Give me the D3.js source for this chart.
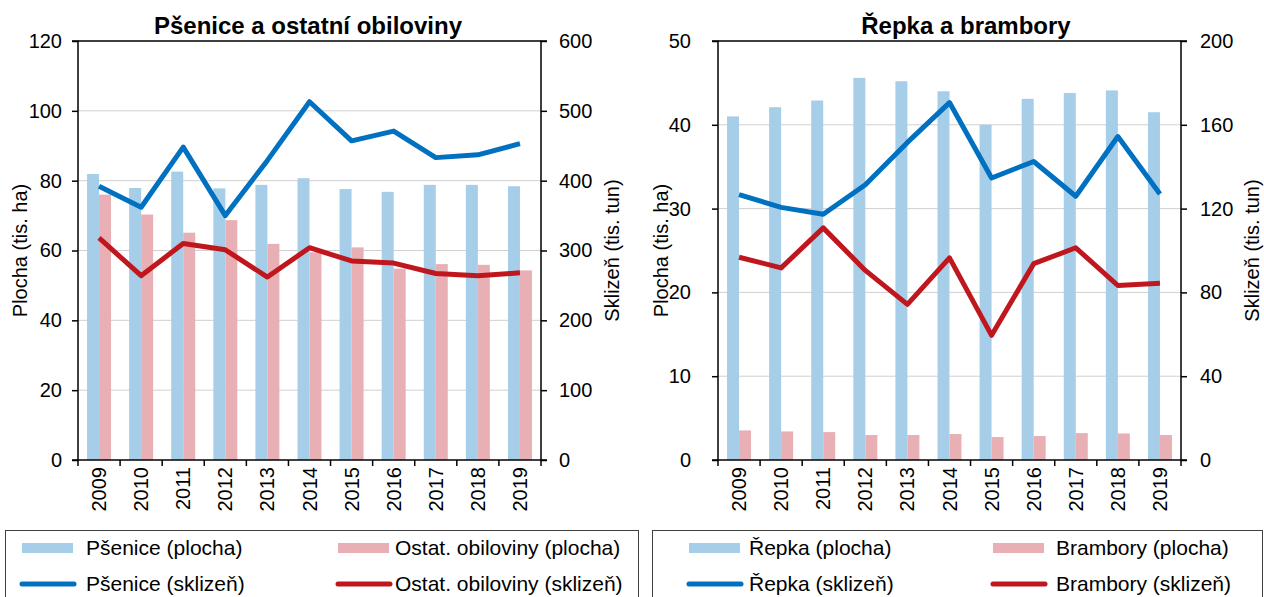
<!DOCTYPE html>
<html>
<head>
<meta charset="utf-8">
<script src="https://cdn.jsdelivr.net/npm/d3@7"></script>
<style>
  body{margin:0;background:#fff;}
  svg{display:block;font-family:"Liberation Sans",Arial,sans-serif;}
</style>
</head>
<body>
<div class="chart"></div>
<script>
var years = ["2009","2010","2011","2012","2013","2014","2015","2016","2017","2018","2019"];

// left chart
var psenicePlocha = [81.9,77.9,82.6,77.8,78.8,80.7,77.6,76.8,78.8,78.8,78.4];
var ostatPlocha   = [76.0,70.3,65.1,68.7,61.9,59.5,60.9,54.8,56.1,55.9,54.3];
var pseniceSklizen= [392,362,448,350,429,513,457,471,433,437,453];
var ostatSklizen  = [318,264,310,301,262,304,285,282,267,264,268];

// right chart
var repkaPlocha    = [41.0,42.1,42.9,45.6,45.2,44.0,40.0,43.1,43.8,44.1,41.5];
var bramboryPlocha = [3.53,3.41,3.33,2.98,2.98,3.10,2.74,2.86,3.21,3.17,2.98];
var repkaSklizen   = [126.7,120.6,117.3,131.4,151.6,170.6,134.6,142.5,125.9,154.4,127.0];
var bramborySklizen= [96.8,91.7,110.8,90.5,74.3,96.5,59.5,93.7,101.3,83.3,84.4];

var leftTicks1 = [0,20,40,60,80,100,120];
var rightTicks1 = [0,100,200,300,400,500,600];
var leftTicks2 = [0,10,20,30,40,50];
var rightTicks2 = [0,40,80,120,160,200];

var cBarBlue="#a6cee8", cBarPink="#e8b0b4", cLineBlue="#0070c0", cLineRed="#c0171f";

var svg=d3.select(".chart").append("svg")
  .attr("width",1264)
  .attr("height",597);

var charts=[
  {title:"Pšenice a ostatní obiloviny", titleX:308, l:78, r:541,
   bars:[psenicePlocha,ostatPlocha], lines:[pseniceSklizen,ostatSklizen],
   lt:leftTicks1, rt:rightTicks1, lPad:10, rPad:12, ltX:20, rtX:612},
  {title:"Řepka a brambory", titleX:966, l:718, r:1181,
   bars:[repkaPlocha,bramboryPlocha], lines:[repkaSklizen,bramborySklizen],
   lt:leftTicks2, rt:rightTicks2, lPad:21, rPad:13, ltX:661, rtX:1252}
];

var plotTop=41, plotBottom=460;

charts.forEach(function(c){
  var g=svg.append("g");

  var x=d3.scaleBand().domain(years).range([c.l,c.r]).paddingInner(0.43).paddingOuter(0.215);
  var xs=d3.scaleBand().domain([0,1]).range([0,x.bandwidth()]);
  var yL=d3.scaleLinear().domain([0,d3.max(c.lt)]).range([plotBottom,plotTop]);
  var yR=d3.scaleLinear().domain([0,d3.max(c.rt)]).range([plotBottom,plotTop]);

  // grid
  g.selectAll(".grid").data(c.lt.slice(1,-1)).enter().append("line")
    .attr("x1",c.l).attr("x2",c.r)
    .attr("y1",function(d){return yL(d)}).attr("y2",function(d){return yL(d)})
    .attr("stroke","#d0d0d0").attr("stroke-width",1);

  // bars
  [cBarBlue,cBarPink].forEach(function(col,k){
    g.selectAll(".bar"+k).data(c.bars[k]).enter().append("rect")
      .attr("x",function(d,i){return x(years[i])+xs(k)})
      .attr("width",xs.bandwidth())
      .attr("y",function(d){return yL(d)})
      .attr("height",function(d){return plotBottom-yL(d)})
      .attr("fill",col);
  });

  // lines
  var line=d3.line()
    .x(function(d,i){return x(years[i])+x.bandwidth()/2})
    .y(function(d){return yR(d)});
  [cLineBlue,cLineRed].forEach(function(col,k){
    g.append("path").datum(c.lines[k])
      .attr("d",line)
      .attr("fill","none")
      .attr("stroke",col)
      .attr("stroke-width",5)
      .attr("stroke-linejoin","round");
  });

  // frame
  g.append("line").attr("x1",c.l).attr("x2",c.r).attr("y1",plotTop).attr("y2",plotTop)
    .attr("stroke","#000").attr("stroke-width",1.5);

  var axL=g.append("g").attr("transform","translate("+c.l+",0)")
    .call(d3.axisLeft(yL).tickValues(c.lt).tickSize(6).tickPadding(c.lPad));
  var axR=g.append("g").attr("transform","translate("+c.r+",0)")
    .call(d3.axisRight(yR).tickValues(c.rt).tickSize(6).tickPadding(c.rPad));
  [axL,axR].forEach(function(a){
    a.select(".domain").attr("stroke","#000").attr("stroke-width",1.5).attr("d",
      a===axL ? "M-6,"+plotTop+"H0V"+plotBottom+"H-6" : "M6,"+plotTop+"H0V"+plotBottom+"H6");
    a.selectAll(".tick line").attr("stroke","#000").attr("stroke-width",1.5);
    a.selectAll(".tick text").attr("font-size","20px").attr("fill","#000")
      .attr("font-family","Liberation Sans, Arial, sans-serif");
  });

  // x axis
  g.append("line").attr("x1",c.l).attr("x2",c.r).attr("y1",plotBottom).attr("y2",plotBottom)
    .attr("stroke","#000").attr("stroke-width",1.5);
  var bounds=years.map(function(d){return x(d)-x.step()*x.paddingInner()/2}).concat([c.r]);
  g.selectAll(".xt").data(bounds).enter().append("line")
    .attr("x1",function(d){return d}).attr("x2",function(d){return d})
    .attr("y1",plotBottom).attr("y2",plotBottom+6)
    .attr("stroke","#000").attr("stroke-width",1.5);
  g.selectAll(".xl").data(years).enter().append("text")
    .attr("transform",function(d){return "translate("+(x(d)+x.bandwidth()/2+7)+","+(plotBottom+7)+") rotate(-90)"})
    .attr("text-anchor","end")
    .attr("font-size","20px")
    .text(function(d){return d});

  // titles
  g.append("text").attr("x",c.titleX).attr("y",34)
    .attr("text-anchor","middle").attr("font-weight","bold").attr("font-size","24px")
    .text(c.title);
  g.append("text")
    .attr("transform","translate("+c.ltX+","+((plotTop+plotBottom)/2)+") rotate(-90)")
    .attr("text-anchor","middle").attr("dy","0.35em").attr("font-size","20px")
    .text("Plocha (tis. ha)");
  g.append("text")
    .attr("transform","translate("+c.rtX+","+((plotTop+plotBottom)/2)+") rotate(-90)")
    .attr("text-anchor","middle").attr("dy","0.35em").attr("font-size","20px")
    .text("Sklizeň (tis. tun)");
});

// legends
var legends=[
  {x:5, w:633, items:[
    {t:"Pšenice (plocha)", c:cBarBlue, bar:true, sx:22, tx:86, y:548},
    {t:"Ostat. obiloviny (plocha)", c:cBarPink, bar:true, sx:338, tx:395, y:548},
    {t:"Pšenice (sklizeň)", c:cLineBlue, bar:false, sx:22, tx:86, y:584},
    {t:"Ostat. obiloviny (sklizeň)", c:cLineRed, bar:false, sx:338, tx:395, y:584}]},
  {x:652, w:610, items:[
    {t:"Řepka (plocha)", c:cBarBlue, bar:true, sx:689, tx:749, y:548},
    {t:"Brambory (plocha)", c:cBarPink, bar:true, sx:993, tx:1056, y:548},
    {t:"Řepka (sklizeň)", c:cLineBlue, bar:false, sx:689, tx:749, y:584},
    {t:"Brambory (sklizeň)", c:cLineRed, bar:false, sx:993, tx:1056, y:584}]}
];

legends.forEach(function(L){
  var lg=svg.append("g");
  lg.append("rect").attr("x",L.x+0.5).attr("y",530.5).attr("width",L.w).attr("height",80)
    .attr("fill","none").attr("stroke","#404040").attr("stroke-width",1);
  L.items.forEach(function(it){
    if(it.bar){
      lg.append("rect").attr("x",it.sx).attr("y",it.y-5).attr("width",51).attr("height",10).attr("fill",it.c);
    } else {
      lg.append("line").attr("x1",it.sx).attr("x2",it.sx+52).attr("y1",it.y).attr("y2",it.y)
        .attr("stroke",it.c).attr("stroke-width",5).attr("stroke-linecap","round");
    }
    lg.append("text").attr("x",it.tx).attr("y",it.y).attr("dy","0.35em")
      .attr("font-size","21px").text(it.t);
  });
});
</script>
</body>
</html>
